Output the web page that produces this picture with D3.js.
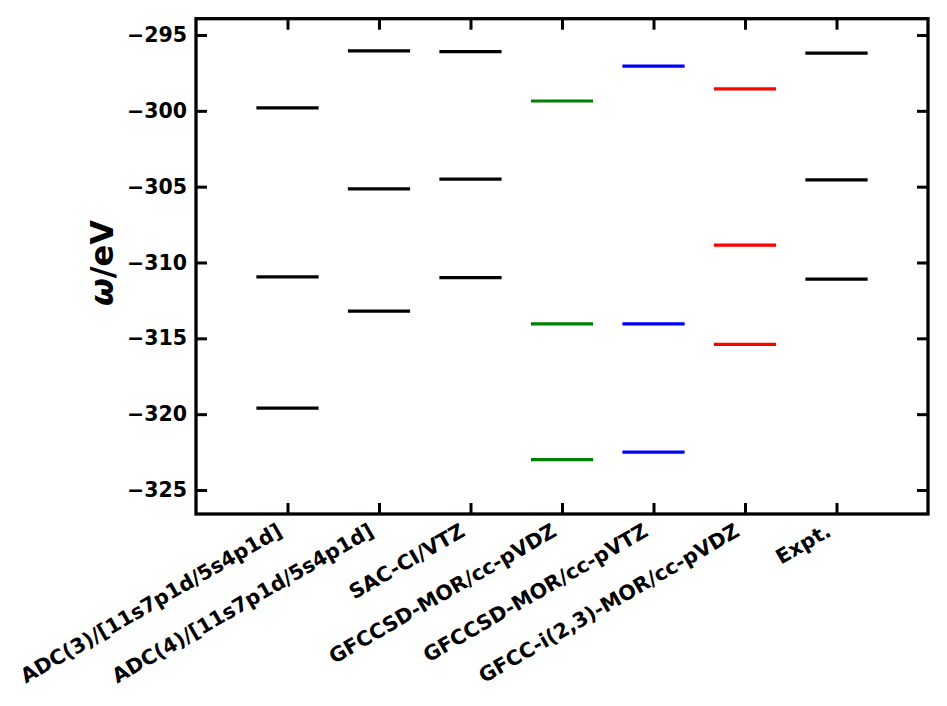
<!DOCTYPE html>
<html lang="en">
<head>
<meta charset="UTF-8">
<title>Core ionization levels</title>
<script src="https://cdnjs.cloudflare.com/ajax/libs/d3/7.8.5/d3.min.js"></script>
<style>
    body { margin: 0; background: #fff; }
    text { font-family: "DejaVu Sans", sans-serif; font-weight: bold; }
</style>
</head>
<body>
<div id="wrapper"></div>
<script>
// methods along the x axis
const methods = [
    "ADC(3)/[11s7p1d/5s4p1d]",
    "ADC(4)/[11s7p1d/5s4p1d]",
    "SAC-CI/VTZ",
    "GFCCSD-MOR/cc-pVDZ",
    "GFCCSD-MOR/cc-pVTZ",
    "GFCC-i(2,3)-MOR/cc-pVDZ",
    "Expt."
];
// energy levels (eV) per method
const levels = [
    [-299.8, -310.95, -319.6],
    [-296.05, -305.15, -313.2],
    [-296.1, -304.5, -311.0],
    [-299.35, -314.05, -323.0],
    [-297.05, -314.05, -322.5],
    [-298.55, -308.85, -315.4],
    [-296.2, -304.55, -311.1]
];
const colors = ["black", "black", "black", "green", "blue", "red", "black"];
const yTicks = [-325, -320, -315, -310, -305, -300, -295];

const width = 947, height = 706;
const box = {left: 196, right: 928, top: 18.7, bottom: 514};

const svg = d3.select("#wrapper").append("svg")
    .attr("width", width)
    .attr("height", height);

const x = d3.scaleLinear().domain([-1, 7]).range([box.left, box.right]);
const yBase = d3.scaleLinear().domain([-325, -295]).range([490, 35]);
const y = d3.scaleLinear()
    .domain([yBase.invert(box.bottom), yBase.invert(box.top)])
    .range([box.bottom, box.top]);

// levels
const rows = [];
levels.forEach((arr, i) => arr.forEach(v => rows.push({i: i, v: v})));
svg.append("g").selectAll("line")
    .data(rows)
    .enter().append("line")
    .attr("x1", d => x(d.i - 0.34))
    .attr("x2", d => x(d.i + 0.34))
    .attr("y1", d => y(d.v))
    .attr("y2", d => y(d.v))
    .attr("stroke", d => colors[d.i])
    .attr("stroke-width", 3.2);

// axes, ticks inward on all sides
const xIdx = d3.range(methods.length);
const axL = svg.append("g").attr("transform", `translate(${box.left},0)`)
    .call(d3.axisLeft(y).tickValues(yTicks).tickSizeInner(-11).tickSizeOuter(0).tickPadding(9)
        .tickFormat(d3.format("d")));
const axR = svg.append("g").attr("transform", `translate(${box.right},0)`)
    .call(d3.axisRight(y).tickValues(yTicks).tickSizeInner(-11).tickSizeOuter(0).tickFormat(""));
const axB = svg.append("g").attr("transform", `translate(0,${box.bottom})`)
    .call(d3.axisBottom(x).tickValues(xIdx).tickSizeInner(-11).tickSizeOuter(0).tickFormat(""));
const axT = svg.append("g").attr("transform", `translate(0,${box.top})`)
    .call(d3.axisTop(x).tickValues(xIdx).tickSizeInner(-11).tickSizeOuter(0).tickFormat(""));

[axL, axR, axB, axT].forEach(a => {
    a.select(".domain").remove();
    a.selectAll(".tick line").attr("stroke", "black").attr("stroke-width", 3);
});
axL.selectAll(".tick text")
    .attr("font-size", 20.5)
    .attr("fill", "black")
    .attr("font-family", "DejaVu Sans")
    .attr("font-weight", "bold")
    .text(d => d3.format("d")(d).replace("-", "\u2212"));

svg.append("rect")
    .attr("x", box.left).attr("y", box.top)
    .attr("width", box.right - box.left).attr("height", box.bottom - box.top)
    .attr("fill", "none").attr("stroke", "black").attr("stroke-width", 3.3);

// rotated category labels
svg.append("g").selectAll("text")
    .data(methods)
    .enter().append("text")
    .attr("transform", (d, i) => `translate(${x(i) - 4},${box.bottom + 21}) rotate(-30)`)
    .attr("text-anchor", "end")
    .attr("font-size", 20.5)
    .text(d => d);

const ylab = svg.append("text")
    .attr("transform", "translate(113,263) rotate(-90)")
    .attr("text-anchor", "middle")
    .attr("font-size", 32);
ylab.append("tspan").attr("font-style", "italic").text("\u03c9");
ylab.append("tspan").text("/eV");
</script>
</body>
</html>
